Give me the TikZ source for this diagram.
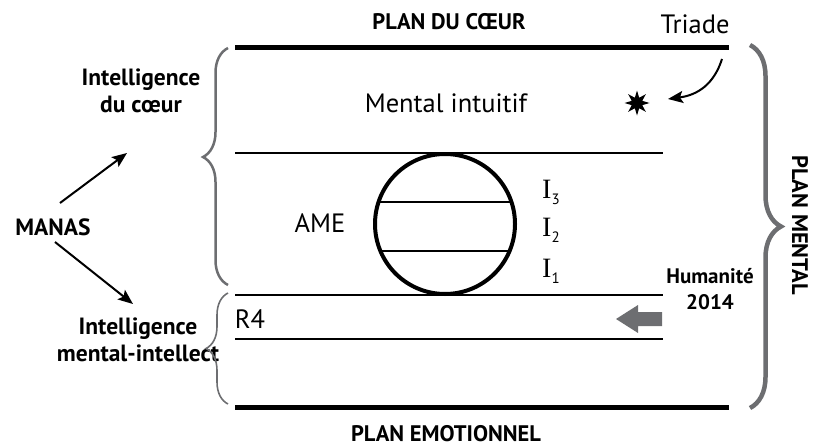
\documentclass[tikz,border=0pt]{standalone}
\usepackage{fontspec}
\setmainfont{PT Sans}
\newfontfamily\romanI{Liberation Serif}
\usetikzlibrary{arrows.meta,decorations.pathreplacing,shapes.geometric}
\definecolor{bracegray}{HTML}{6D6E71}

\begin{document}
\begin{tikzpicture}[x=1pt,y=-1pt,
  txt/.style={inner sep=0pt, anchor=base, font=\fontsize{26.5}{31}\selectfont},
  boldtxt/.style={inner sep=0pt, anchor=base, align=center, font=\fontsize{22.5}{26}\selectfont\bfseries},
  sidetxt/.style={inner sep=0pt, anchor=base, align=center, font=\fontsize{23.5}{27}\selectfont\bfseries},
  thickline/.style={line width=5pt},
  thinline/.style={line width=2pt},
  graybrace/.style={bracegray, decorate},
  pointer/.style={-{Stealth[length=15pt,width=12pt,inset=3pt]}, line width=2pt},
  ilabel/.style={inner sep=0pt, anchor=base west, font=\fontsize{28}{30}\selectfont\romanI}
]
\useasboundingbox (0,0) rectangle (816,447);

% planes
\draw[thickline] (235,47) -- (729,47);
\draw[thinline] (235,153) -- (663,153);
\draw[thinline] (235,295) -- (663,295);
\draw[thinline] (235,339) -- (663,339);
\draw[thickline] (235,407) -- (729,407);

% soul circle with its three levels
\node[circle, draw, line width=4pt, minimum size=140pt, inner sep=0pt] (ame) at (445,224) {};
\begin{scope}
  \clip (445,224) circle (70);
  \draw[thinline] (370,202) -- (520,202);
  \draw[thinline] (370,251) -- (520,251);
\end{scope}
\newcommand{\lvl}[1]{I\raisebox{-6pt}{\normalfont\fontsize{15}{15}\selectfont #1}}
\node[ilabel] (i3) at (542,198) {\lvl{3}};
\node[ilabel] (i2) at (542,236) {\lvl{2}};
\node[ilabel] (i1) at (542,277) {\lvl{1}};

% titles
\node[boldtxt] (coeur) at (449,29) {PLAN DU CŒUR};
\node[boldtxt] (emot) at (446,441) {PLAN EMOTIONNEL};
\node[boldtxt, rotate=-90, anchor=center] (mental) at (800,225) {PLAN MENTAL};
\node[txt] (triade) at (695,33) {Triade};
\node[txt] (intuitif) at (446,112) {Mental intuitif};
\node[txt] (amelbl) at (320,232) {AME};
\node[txt] (rquatre) at (250,328) {R4};

% triad spark
\node[star, star points=8, star point ratio=2.2, fill, inner sep=0pt, minimum size=25pt] (spark) at (637,103) {};
\coordinate (tstart) at (722,59);
\coordinate (tend) at (668,99);
\draw[pointer] (tstart) .. controls (714,84) and (698,95) .. (tend);

% left side: manas and its two intelligences
\node[sidetxt] (manas) at (53,235) {MANAS};
\node[sidetxt] (icoeur) at (141,112) {Intelligence\\du cœur};
\node[sidetxt] (iintel) at (138,361) {Intelligence\\mental-intellect};
\coordinate (m1) at (60,203);
\coordinate (c1) at (127,153);
\coordinate (m2) at (55,242);
\coordinate (c2) at (133,304);
\draw[pointer] (m1) -- (c1);
\draw[pointer] (m2) -- (c2);

% braces
\draw[graybrace, line width=2.5pt, decoration={brace, amplitude=25pt, aspect=0.46, mirror}] (228,48) -- (228,285);
\draw[graybrace, line width=1.6pt, decoration={brace, amplitude=22pt, aspect=0.5, mirror}] (228,293) -- (228,404);
\draw[graybrace, line width=4.5pt, decoration={brace, amplitude=31pt, aspect=0.5}] (750,45) -- (750,408);

% humanity arrow
\fill[bracegray] (662,312) -- (638,312) -- (638,305) -- (616,319) -- (638,333) -- (638,326) -- (662,326) -- cycle;
\node[inner sep=0pt, anchor=base, align=center, font=\fontsize{21}{26}\selectfont\bfseries] (humanite) at (710,309) {Humanité\\2014};
\end{tikzpicture}
\end{document}
